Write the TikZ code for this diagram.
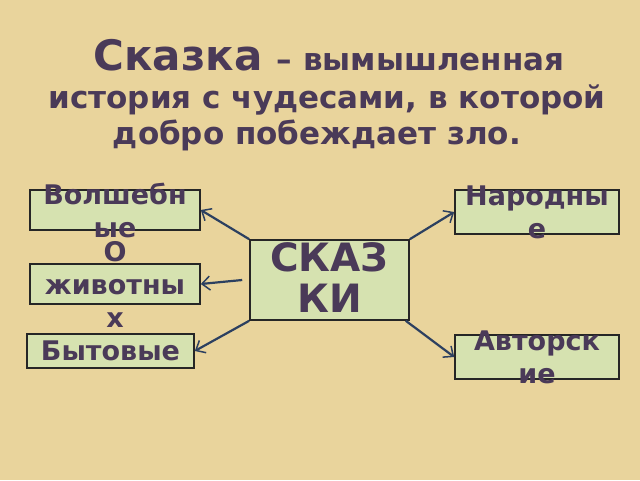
\documentclass[tikz,border=0pt]{standalone}
\usepackage{fontspec}
\setmainfont{DejaVu Sans}
\usetikzlibrary{arrows.meta}
\definecolor{bg}{HTML}{E9D49C}
\definecolor{ink}{HTML}{4A3A58}
\definecolor{boxfill}{HTML}{D6E2B0}
\definecolor{arr}{HTML}{2C4060}
\begin{document}
\begin{tikzpicture}[x=1pt,y=-1pt,
  box/.style={draw=black!85,line width=1.6pt,fill=boxfill,inner sep=0pt},
  lbl/.style={text=ink,inner sep=0pt,font=\bfseries\fontsize{27}{33}\selectfont,align=center},
  conn/.style={draw=arr,line width=2.2pt,-{Straight Barb[length=8pt,width=14pt,line width=1.5pt]}}]
\fill[bg] (0,0) rectangle (640,480);
\useasboundingbox (0,0) rectangle (640,480);
\node[text=ink,font=\bfseries] (t1) at (329,55) {\fontsize{42}{48}\selectfont Сказка \fontsize{31}{36}\selectfont – вымышленная};
\node[text=ink,font=\bfseries\fontsize{31}{36}\selectfont] (t2) at (327,100) {история с чудесами, в которой};
\node[text=ink,font=\bfseries\fontsize{31}{36}\selectfont] (t3) at (317,135) {добро побеждает зло.};
\node[box,minimum width=170pt,minimum height=40pt] (v) at (115,210) {};
\node[lbl] at (v) {Волшебн\\ые};
\node[box,minimum width=164pt,minimum height=44pt] (n) at (537,212) {};
\node[lbl] at (n) {Народны\\е};
\node[box,minimum width=170pt,minimum height=40pt] (z) at (115,284) {};
\node[lbl] at (z) {О\\животны\\х};
\node[box,minimum width=167pt,minimum height=34pt] (b) at (110.5,351) {};
\node[lbl] at (b) {Бытовые};
\node[box,minimum width=164pt,minimum height=44pt] (a) at (537,357) {};
\node[lbl] at (a) {Авторск\\ие};
\node[box,minimum width=159pt,minimum height=80pt] (s) at (329.5,280) {};
\node[lbl,font=\bfseries\fontsize{39}{41}\selectfont] at ([yshift=2pt]s) {СКАЗ\\КИ};
\draw[conn] (s.north west) -- (v.east);
\draw[conn] (s.north east) -- (n.west);
\draw[conn] ([xshift=-7pt]s.west) -- (z.east);
\draw[conn] (s.south west) -- (b.east);
\draw[conn] ([xshift=-4pt]s.south east) -- (a.west);
\end{tikzpicture}
\end{document}
